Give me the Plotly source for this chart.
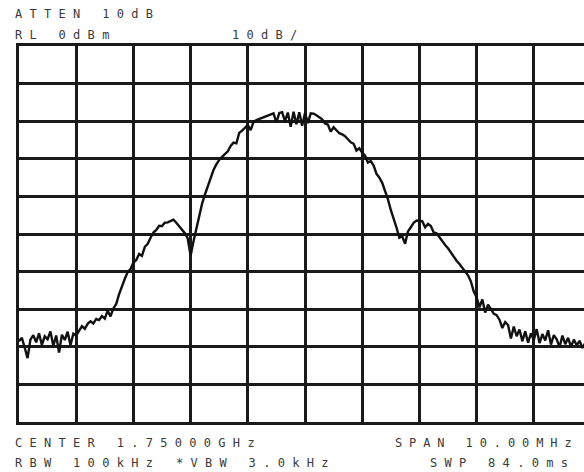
import plotly.graph_objects as go

# Spectrum analyser trace: 1745 MHz .. 1755 MHz sweep, one reading every 0.05 MHz (dBm)
sweep_start_mhz = 1745.0
sweep_step_mhz = 0.05
level_dbm = [
    -78.5, -77.6, -80.2, -83.0, -78.1, -76.9, -78.8, -76.4, -79.5, -77.2,
    -78.0, -75.9, -79.8, -77.0, -81.5, -76.8, -78.2, -76.0, -79.6, -76.5,
    -77.0, -75.8, -74.5, -75.2, -73.9, -73.2, -73.8, -72.6, -72.9, -71.8,
    -72.5, -70.4, -71.9, -69.8, -68.6, -66.0, -63.8, -61.9, -60.1, -59.3,
    -57.6, -56.9, -55.3, -55.8, -53.4, -52.6, -51.0, -49.6, -48.9, -47.8,
    -47.9, -47.0, -46.9, -46.5, -46.2, -47.0, -48.0, -48.9, -49.8, -51.2,
    -55.8, -52.0, -48.5, -45.0, -42.0, -39.5, -37.2, -34.8, -33.0, -31.5,
    -30.3, -29.5, -28.6, -28.0, -26.6, -25.7, -25.9, -23.1, -22.5, -21.8,
    -21.0, -22.4, -20.2, -19.7, -19.4, -19.1, -18.7, -18.4, -18.1, -17.9,
    -20.4, -17.8, -17.6, -20.0, -17.7, -21.5, -17.5, -20.8, -17.6, -21.2,
    -17.8, -20.5, -17.9, -18.0, -18.4, -18.9, -19.5, -20.6, -20.9, -22.8,
    -21.6, -22.4, -23.2, -23.5, -24.0, -24.8, -25.6, -26.0, -27.8, -27.2,
    -28.4, -29.2, -31.0, -30.6, -31.8, -34.0, -35.0, -36.4, -38.5, -40.8,
    -43.6, -45.8, -48.3, -51.0, -50.6, -52.6, -49.3, -48.2, -47.0, -46.4,
    -46.5, -46.6, -48.2, -47.3, -47.9, -49.6, -49.8, -50.9, -51.8, -52.9,
    -53.8, -55.0, -56.0, -57.1, -58.0, -59.1, -60.0, -61.0, -62.6, -65.3,
    -66.8, -69.5, -67.4, -70.9, -68.8, -70.0, -71.2, -71.6, -72.8, -75.0,
    -73.4, -74.2, -77.8, -74.6, -77.2, -75.4, -78.5, -75.9, -78.9, -76.4,
    -78.2, -75.3, -79.0, -76.6, -78.3, -75.6, -79.4, -76.9, -78.0, -80.1,
    -77.0, -79.3, -77.6, -80.0, -78.1, -79.6, -78.4, -80.3, -79.0,
]
freq_mhz = [sweep_start_mhz + sweep_step_mhz * i for i in range(len(level_dbm))]

header_lines = ["ATTEN 10dB", "RL 0dBm", "10dB/"]
footer_lines = ["CENTER 1.75000GHz", "SPAN 10.00MHz", "RBW 100kHz", "*VBW 3.0kHz", "SWP 84.0ms"]

W, H = 584, 472
L, T, B = 19, 46, 50
plot_w = W - L
plot_h = H - T - B
x_lo = 1745.0
x_hi = x_lo + 10.0 * plot_w / 572.0  # grid right edge lies just outside the picture

fig = go.Figure()
fig.add_trace(go.Scatter(
    x=freq_mhz, y=level_dbm, mode="lines",
    line=dict(color="#111111", width=2.4), hoverinfo="skip", showlegend=False,
))

fig.update_xaxes(
    range=[x_lo, x_hi], tick0=1745, dtick=1, showticklabels=False, ticks="",
    showgrid=True, gridcolor="#1a1a1a", gridwidth=2.6,
    showline=True, linecolor="#1a1a1a", linewidth=2.6, mirror=True, zeroline=False,
)
fig.update_yaxes(
    range=[-100, 0], tick0=0, dtick=10, showticklabels=False, ticks="",
    showgrid=True, gridcolor="#1a1a1a", gridwidth=2.6,
    showline=True, linecolor="#1a1a1a", linewidth=2.6, mirror=False, zeroline=False,
)

font = dict(family="DejaVu Sans Mono", size=12, color="#3a3a3a")


def px_x(px):
    return (px - L) / plot_w


def px_y(py):
    return (H - B - py) / plot_h


def label(text, px, py, spacing=7.3):
    fig.add_annotation(
        text='<span style="letter-spacing:%.1fpx">' % spacing + text + "</span>",
        xref="paper", yref="paper", x=px_x(px), y=px_y(py),
        xanchor="left", yanchor="middle", showarrow=False, font=font,
    )


label(header_lines[0], 13, 14)
label(header_lines[1], 13, 35)
label(header_lines[2], 230, 35)
label(footer_lines[0], 13, 443)
label(footer_lines[1], 393, 443, 6.9)
label(footer_lines[2], 13, 463)
label(footer_lines[3], 174, 463)
label(footer_lines[4], 428, 463)

fig.update_layout(
    width=W, height=H,
    margin=dict(l=L, r=0, t=T, b=B, pad=0),
    paper_bgcolor="white", plot_bgcolor="white",
)

fig.write_html("out.html")
